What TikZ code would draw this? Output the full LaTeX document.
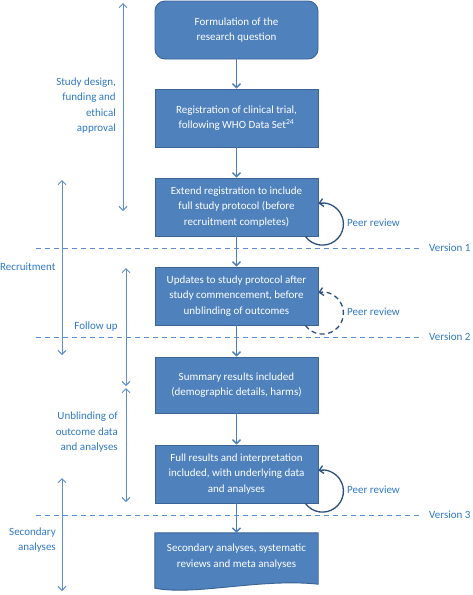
\documentclass[tikz,border=0pt]{standalone}
\usepackage{fontspec}
\setmainfont{Carlito}
\usetikzlibrary{arrows.meta}

\definecolor{boxfill}{HTML}{4F81BD}
\definecolor{boxedge}{HTML}{3A6396}
\definecolor{flowline}{HTML}{4A7EBB}
\definecolor{phaseline}{HTML}{5B8DCF}
\definecolor{labelblue}{HTML}{2E78C4}
\definecolor{loopblue}{HTML}{2B4E7E}

\tikzset{
  every node/.style={font=\fontsize{11}{15.5}\selectfont},
  stagebox/.style={draw=boxedge, line width=0.9pt, fill=boxfill, text=white, align=center,
    minimum width=163pt, minimum height=58pt, inner sep=2pt},
  flow/.style={draw=flowline, line width=1.3pt, -{Straight Barb[length=4pt,width=8pt]}},
  phase/.style={draw=phaseline, line width=1pt, {Straight Barb[length=4pt,width=8pt]}-{Straight Barb[length=4pt,width=8pt]}},
  versionline/.style={draw=phaseline, line width=0.9pt, dash pattern=on 5pt off 4pt},
  phaselabel/.style={text=labelblue, align=right, inner sep=0pt},
  peer/.style={draw=loopblue, line width=1.3pt, -{Straight Barb[length=4pt,width=8pt]}},
}

\begin{document}
\begin{tikzpicture}[x=1pt,y=1pt]
			%%%%% START %%%%%
			\useasboundingbox (0,0) rectangle (472,-595);
			
			% stages
			\node[stagebox, rounded corners=10pt] (question) at (236.5,-30) {Formulation of the\\research question};
			\node[stagebox] (registration) at (236.5,-118) {Registration of clinical trial,\\following WHO Data Set\textsuperscript{24}};
			\node[stagebox] (protocol) at (236.5,-207) {Extend registration to include\\full study protocol (before\\recruitment completes)};
			\node[stagebox] (updates) at (236.5,-296) {Updates to study protocol after\\study commencement, before\\unblinding of outcomes};
			\node[stagebox, minimum height=56pt] (summary) at (236.5,-385) {Summary results included\\(demographic details, harms)};
			\node[stagebox] (fullres) at (236.5,-474) {Full results and interpretation\\included, with underlying data\\and analyses};
			\node[text=white, align=center, minimum width=163pt, minimum height=47pt, inner sep=2pt] (secondary) at (236.5,-556.5) {};
			\draw[draw=boxedge, line width=0.9pt, fill=boxfill] (secondary.north west) -- (secondary.north east) -- ([yshift=-4pt]secondary.south east)
				.. controls (260,-578) and (195,-596) .. ([yshift=-8pt]secondary.south west) -- cycle;
			\node[text=white, align=center] at (secondary) {Secondary analyses, systematic\\reviews and meta analyses};
			
			% flow
			\draw[flow] (question) -- (registration);
			\draw[flow] (registration) -- (protocol);
			\draw[flow] (protocol) -- (updates);
			\draw[flow] (updates) -- (summary);
			\draw[flow] (summary) -- (fullres);
			\draw[flow] (fullres) -- (secondary);
			
			% versions
			\coordinate (v1a) at (36,-248); \coordinate (v1b) at (422,-248);
			\coordinate (v2a) at (36,-337); \coordinate (v2b) at (422,-337);
			\coordinate (v3a) at (36,-515); \coordinate (v3b) at (422,-515);
			\draw[versionline] (v1a) -- (v1b);
			\draw[versionline] (v2a) -- (v2b);
			\draw[versionline] (v3a) -- (v3b);
			\node[phaselabel, anchor=west] (ver1) at (429,-248) {Version 1};
			\node[phaselabel, anchor=west] (ver2) at (429,-337) {Version 2};
			\node[phaselabel, anchor=west] (ver3) at (429,-515) {Version 3};
			
			% peer review
			\draw[peer] ([xshift=-13pt]protocol.south east) arc[start angle=216, end angle=461, radius=21pt];
			\node[phaselabel, anchor=west] (peer1) at (347,-223) {Peer review};
			\draw[peer, dash pattern=on 5pt off 3.5pt] ([xshift=-13pt]updates.south east) arc[start angle=216, end angle=461, radius=21pt];
			\node[phaselabel, anchor=west] (peer2) at (347,-312) {Peer review};
			\draw[peer] ([xshift=-13pt]fullres.south east) arc[start angle=216, end angle=461, radius=21pt];
			\node[phaselabel, anchor=west] (peer3) at (347,-490) {Peer review};
			
			% phases
			\coordinate (design top) at (123,-3); \coordinate (design bottom) at (123,-211);
			\draw[phase] (design top) -- (design bottom);
			\node[phaselabel, anchor=east] (design) at (116,-105.5) {Study design,\\funding and\\ethical\\approval};
			
			\coordinate (recruit top) at (62,-180); \coordinate (recruit bottom) at (62,-355);
			\draw[phase] (recruit top) -- (recruit bottom);
			\node[phaselabel, anchor=west] (recruit) at (0,-267) {Recruitment};
			
			\coordinate (follow top) at (126,-268); \coordinate (follow bottom) at (126,-386);
			\draw[phase] (follow top) -- (follow bottom);
			\node[phaselabel, anchor=east] (follow) at (118,-327) {Follow up};
			
			\coordinate (unblind top) at (126,-388); \coordinate (unblind bottom) at (126,-502);
			\draw[phase] (unblind top) -- (unblind bottom);
			\node[phaselabel, anchor=east] (unblind) at (118,-432.5) {Unblinding of\\outcome data\\and analyses};
			
			\coordinate (second top) at (62,-478); \coordinate (second bottom) at (62,-591);
			\draw[phase] (second top) -- (second bottom);
			\node[phaselabel, anchor=east] (second) at (56,-540) {Secondary\\analyses};
			
			%%%%% END %%%%%
		\end{tikzpicture}
\end{document}
